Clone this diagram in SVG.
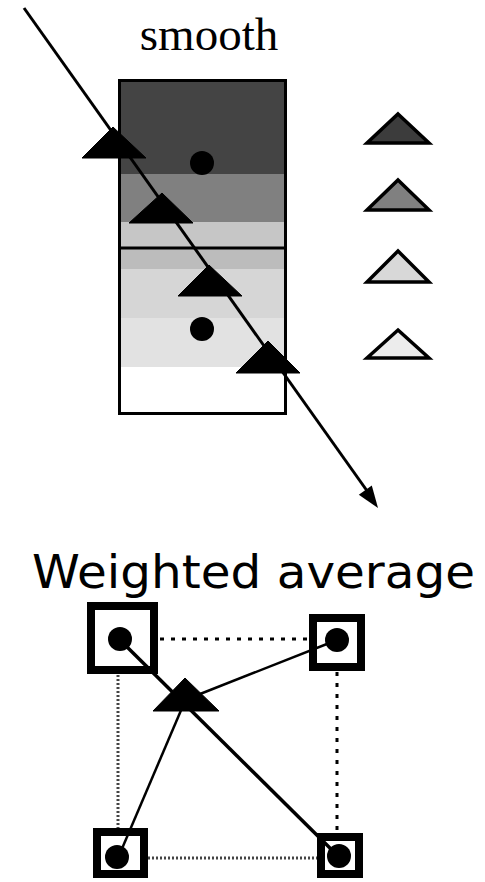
<svg xmlns="http://www.w3.org/2000/svg" width="485" height="882" viewBox="0 0 485 882">
<style>
.blk{fill:#000;stroke:#000;stroke-width:1;stroke-linejoin:miter}
.leg{stroke:#000;stroke-width:3.5;stroke-linejoin:miter}
.dot{fill:#000}
.box{fill:none;stroke:#000;stroke-width:8}
.thick{stroke:#000;stroke-width:3.5;fill:none}
.thin{stroke:#000;stroke-width:2.5;fill:none}
.dotk{stroke:#000;stroke-width:3;stroke-dasharray:4 7;fill:none}
.dotg{stroke:#444;stroke-width:3;stroke-dasharray:2 2;fill:none}
</style>
<rect width="485" height="882" fill="#fff"/>
<text x="209" y="50" font-family="Liberation Serif, Times New Roman, serif" font-size="47" text-anchor="middle">smooth</text>
<g id="grid">
<rect x="119" y="80" width="167" height="94" fill="#444"/>
<rect x="119" y="174" width="167" height="48" fill="#808080"/>
<rect x="119" y="222" width="167" height="26" fill="#c6c6c6"/>
<rect x="119" y="248" width="167" height="21" fill="#bcbcbc"/>
<rect x="119" y="269" width="167" height="49" fill="#d6d6d6"/>
<rect x="119" y="318" width="167" height="49" fill="#e2e2e2"/>
<rect x="119" y="367" width="167" height="47" fill="#fff"/>
<circle class="dot" cx="202" cy="163" r="12"/>
<circle class="dot" cx="202" cy="329" r="12"/>
<rect x="119.5" y="80.5" width="166" height="333" fill="none" stroke="#000" stroke-width="3"/>
<line x1="119" y1="248" x2="286" y2="248" stroke="#000" stroke-width="3"/>
</g>
<g id="connectors">
<line x1="24" y1="8" x2="370" y2="495" stroke="#000" stroke-width="3"/>
<polygon points="378,508 358.8,494.7 371.8,485.4" fill="#000"/>
<line class="dotk" x1="160" y1="639" x2="310" y2="639"/>
<line class="dotk" x1="337" y1="672" x2="337" y2="832"/>
<line class="dotg" x1="118" y1="675" x2="118" y2="828"/>
<line class="dotg" x1="148" y1="858" x2="318" y2="858"/>
<line class="thick" x1="120" y1="640" x2="338" y2="856"/>
<line class="thin" x1="337" y1="640" x2="195" y2="696"/>
<line class="thin" x1="118" y1="858" x2="182" y2="708"/>
</g>
<g id="samples">
<polygon class="blk" points="113,127 146,158 82,158"/>
<polygon class="blk" points="162,193 193,223 129,223"/>
<polygon class="blk" points="209,265 242,296 178,296"/>
<polygon class="blk" points="268,341 300,373 236,373"/>
</g>
<g id="legend">
<polygon class="leg" fill="#3c3c3c" points="398,114 429,143 367,143"/>
<polygon class="leg" fill="#808080" points="398,180 429,210 367,210"/>
<polygon class="leg" fill="#d8d8d8" points="398,251 429,282 367,282"/>
<polygon class="leg" fill="#ececec" points="398,330 429,358 367,358"/>
</g>
<text x="32" y="588" font-family="DejaVu Sans, sans-serif" font-size="46" textLength="443" lengthAdjust="spacingAndGlyphs">Weighted average</text>
<g id="node-tl"><rect class="box" x="91" y="606" width="63" height="64"/><circle class="dot" cx="120" cy="639" r="12"/></g>
<g id="node-tr"><rect class="box" x="313" y="618" width="48" height="49"/><circle class="dot" cx="337" cy="640" r="12"/></g>
<g id="node-bl"><rect class="box" x="97" y="832" width="47" height="42"/><circle class="dot" cx="117" cy="857" r="12"/></g>
<g id="node-br"><rect class="box" x="321" y="837" width="38" height="37"/><circle class="dot" cx="339" cy="856" r="12"/></g>
<g id="estimate"><polygon class="blk" points="185,678 219,711 153,711"/></g>
</svg>
